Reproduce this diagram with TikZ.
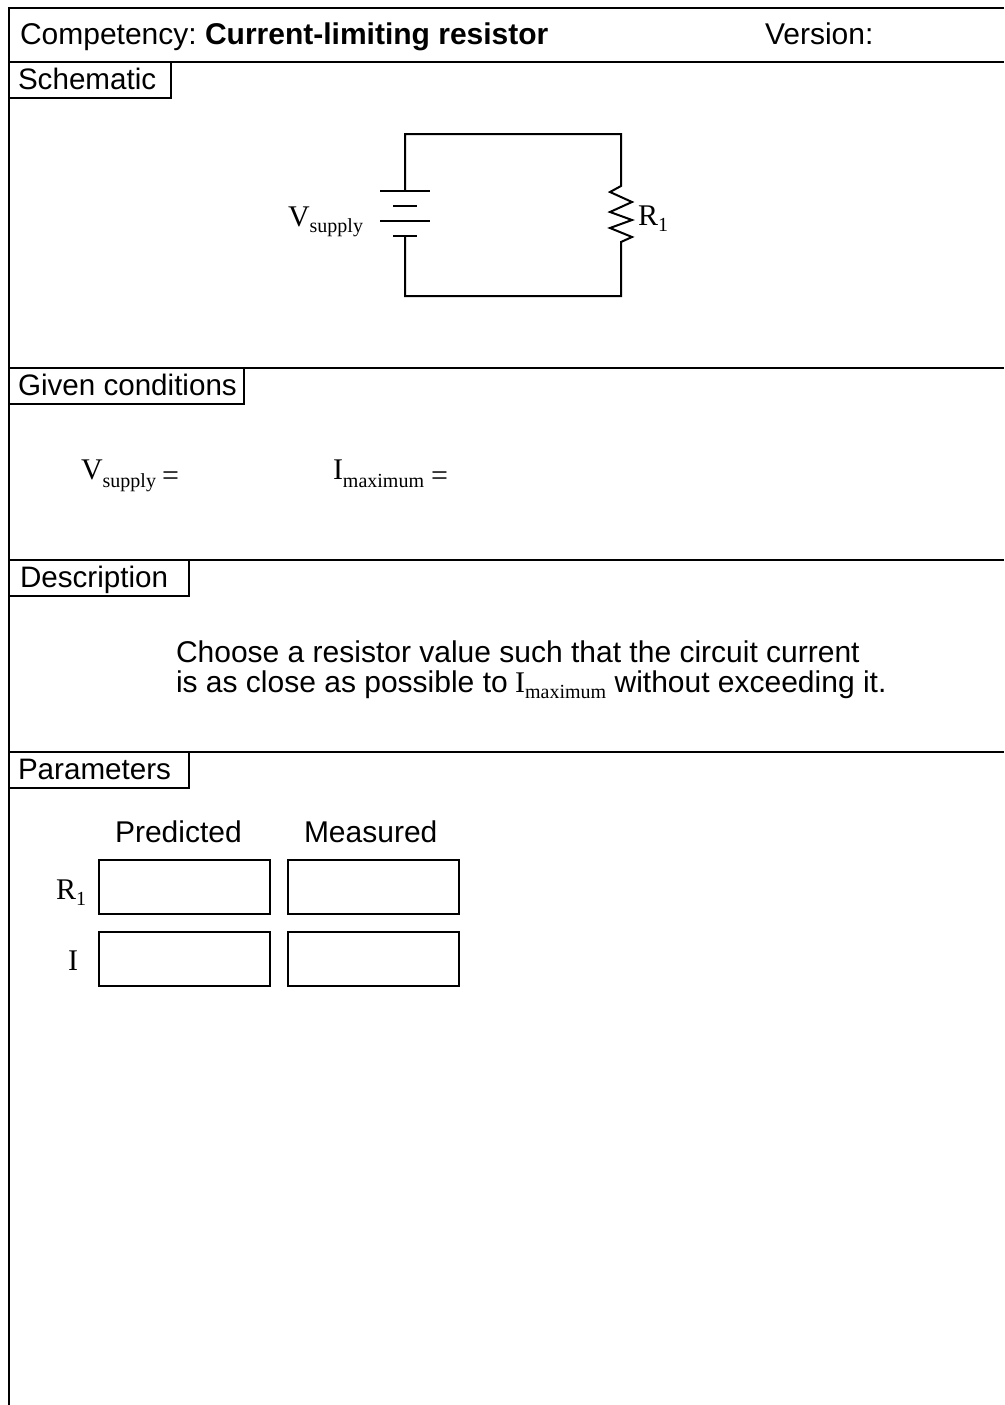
\documentclass[tikz,border=0pt]{standalone}
\usepackage{fontspec}
\setmainfont{Liberation Sans}
\newfontfamily\srf{Liberation Serif}
\newcommand{\sz}[1]{\fontsize{#1}{#1}\selectfont}
\newcommand{\ser}[2]{{\srf\sz{30}#1\raisebox{-6.5pt}{\sz{20}#2}}}
\newcommand{\serl}[2]{{\srf\sz{30}#1\raisebox{-8pt}{\sz{20}#2}}}
\newcommand{\eqs}{{\srf\sz{30}\raisebox{-6pt}{=}}}
\tikzset{
  rule/.style={line width=2pt,line cap=butt,line join=miter},
  lbl/.style={anchor=base west,inner sep=0pt,outer sep=0pt,font=\sz{30}},
  tablbl/.style={lbl,font=\sz{29.6}},
  cell/.style={draw,line width=2pt,minimum width=171pt,minimum height=54pt,inner sep=0pt,outer sep=0pt,anchor=north west},
  wire/.style={line width=2pt,line cap=butt,line join=miter},
}
\begin{document}
\begin{tikzpicture}[x=1pt,y=-1pt]
\useasboundingbox (0,0) rectangle (1004,1405);
% frame
\draw[rule] (1004,8) -- (9,8) -- (9,1405);
\draw[rule] (9,62) -- (1004,62);
\draw[rule] (9,368) -- (1004,368);
\draw[rule] (9,560) -- (1004,560);
\draw[rule] (9,752) -- (1004,752);
% tabs
\draw[rule] (171,62) -- (171,98) -- (9,98);
\draw[rule] (244,368) -- (244,404) -- (9,404);
\draw[rule] (189,560) -- (189,596) -- (9,596);
\draw[rule] (189,752) -- (189,788) -- (9,788);
% header
\node[lbl] (comp) at (20,44.5) {Competency:\hspace{8.3pt}\textbf{Current-limiting resistor}};
\node[lbl] (ver) at (765,44.5) {Version:};
\node[tablbl] (t1) at (18,89) {Schematic};
\node[tablbl] (t2) at (18,395) {Given conditions};
\node[tablbl] (t3) at (20,587) {Description};
\node[tablbl] (t4) at (18,779) {Parameters};
% circuit
\coordinate (bt) at (405,191);
\coordinate (bb) at (405,236);
\coordinate (rt) at (621,186);
\coordinate (rb) at (621,242);
\draw[wire] (bt) -- (405,134) -- (621,134) -- (rt)
  -- (610,192) -- (632,202) -- (610,212) -- (632,220) -- (610,228) -- (632,237) -- (rb)
  -- (621,296) -- (405,296) -- (bb);
\draw[wire] (380,191) -- (430,191);
\draw[wire] (393,206) -- (417,206);
\draw[wire] (380,221) -- (430,221);
\draw[wire] (393,236) -- (417,236);
\node[lbl] (vs) at (288,226) {\ser{V}{supply}};
\node[lbl] (r1) at (638,225) {\ser{R}{1}};
% given
\node[lbl] (g1) at (81,479) {\serl{V}{supply}\hspace{6pt}\eqs};
\node[lbl] (g2) at (333,479) {\serl{I}{maximum}\hspace{7pt}\eqs};
% description
\node[lbl] (d1) at (176,662) {Choose a resistor value such that the circuit current};
\node[lbl] (d2) at (176,692) {is as close as possible to \hspace{-1pt}\ser{I}{maximum} without exceeding it.};
% parameters
\node[lbl] (hp) at (115,842) {Predicted};
\node[lbl] (hm) at (304,842) {Measured};
\node[cell] (a1) at (99,860) {};
\node[cell] (b1) at (288,860) {};
\node[cell] (a2) at (99,932) {};
\node[cell] (b2) at (288,932) {};
\node[lbl] (p1) at (56,899) {\ser{R}{1}};
\node[lbl] (p2) at (68,970) {\ser{I}{}};
\end{tikzpicture}
\end{document}
